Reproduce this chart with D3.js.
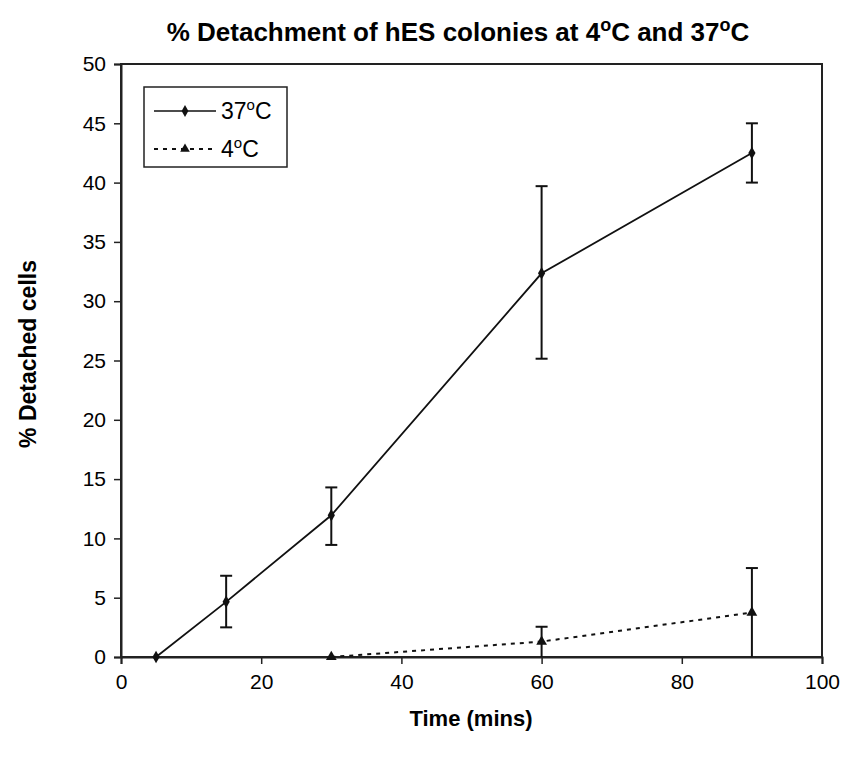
<!DOCTYPE html>
<html><head><meta charset="utf-8">
<script src="https://cdn.jsdelivr.net/npm/d3@7"></script>
<style>body{margin:0;background:#fff;} text{font-family:"Liberation Sans",Arial,sans-serif;fill:#000;}</style>
</head><body>
<svg id="c" width="845" height="758"></svg>
<script>
const times37 = [5, 15, 30, 60, 90];
const values37 = [0, 4.65, 11.95, 32.35, 42.5];
const upper37 = [0, 6.85, 14.3, 39.7, 45.0];
const lower37 = [0, 2.5, 9.45, 25.15, 40.0];
const times4 = [30, 60, 90];
const values4 = [0, 1.3, 3.75];
const upper4 = [0, 2.55, 7.5];
const lower4 = [0, 0, 0];
const xTicks = [0, 20, 40, 60, 80, 100];
const yTicks = [0, 5, 10, 15, 20, 25, 30, 35, 40, 45, 50];

const svg = d3.select("#c");
const L = 121, R = 822, T = 64, B = 657;
const x = d3.scaleLinear().domain([0, 100]).range([L, R]);
const y = d3.scaleLinear().domain([0, 50]).range([B, T]);

svg.append("rect").attr("x", L).attr("y", T).attr("width", R - L).attr("height", B - T)
  .attr("fill", "none").attr("stroke", "#222").attr("stroke-width", 2);

const xa = svg.append("g").attr("transform", `translate(0,${B})`)
  .call(d3.axisBottom(x).tickValues(xTicks).tickSize(7).tickPadding(10).tickFormat(d3.format("d")));
const ya = svg.append("g").attr("transform", `translate(${L},0)`)
  .call(d3.axisLeft(y).tickValues(yTicks).tickSize(7).tickPadding(8).tickFormat(d3.format("d")));
[xa, ya].forEach(a => {
  a.select(".domain").attr("stroke", "#222").attr("stroke-width", 2);
  a.selectAll(".tick line").attr("stroke", "#222").attr("stroke-width", 1.5);
  a.selectAll(".tick text").attr("font-size", 21).attr("font-family", '"Liberation Sans",Arial,sans-serif');
});

function series(ts, vs, up, lo, dashed, marker) {
  const g = svg.append("g");
  const line = d3.line().x((d, i) => x(ts[i])).y(d => y(d));
  g.append("path").datum(vs).attr("d", line).attr("fill", "none").attr("stroke", "#111")
    .attr("stroke-width", dashed ? 2 : 1.8).attr("stroke-dasharray", dashed ? "4,5" : null);
  ts.forEach((t, i) => {
    if (up[i] > lo[i]) {
      g.append("line").attr("x1", x(t)).attr("x2", x(t)).attr("y1", y(up[i])).attr("y2", y(lo[i]))
        .attr("stroke", "#111").attr("stroke-width", 2);
      [up[i], lo[i]].forEach(v => {
        if (v > 0) g.append("line").attr("x1", x(t) - 6).attr("x2", x(t) + 6).attr("y1", y(v)).attr("y2", y(v))
          .attr("stroke", "#111").attr("stroke-width", 2);
      });
    }
  });
  g.selectAll("path.m").data(vs).enter().append("path")
    .attr("transform", (d, i) => `translate(${x(ts[i])},${y(d)})`)
    .attr("d", d3.symbol().type(marker).size(marker === d3.symbolDiamond ? 45 : 50))
    .attr("fill", "#111");
}
series(times37, values37, upper37, lower37, false, d3.symbolDiamond);
series(times4, values4, upper4, lower4, true, d3.symbolTriangle);

// legend
const lg = svg.append("g");
lg.append("rect").attr("x", 144).attr("y", 87).attr("width", 143).attr("height", 80)
  .attr("fill", "#fff").attr("stroke", "#222").attr("stroke-width", 1.5);
const legend = [{label: "37", dashed: false, marker: d3.symbolDiamond, yy: 111},
                {label: "4", dashed: true, marker: d3.symbolTriangle, yy: 149}];
legend.forEach(e => {
  lg.append("line").attr("x1", 154).attr("x2", 216).attr("y1", e.yy).attr("y2", e.yy)
    .attr("stroke", "#111").attr("stroke-width", e.dashed ? 2 : 1.5).attr("stroke-dasharray", e.dashed ? "4,5" : null);
  lg.append("path").attr("transform", `translate(185,${e.yy})`)
    .attr("d", d3.symbol().type(e.marker).size(40)).attr("fill", "#111");
  const t = lg.append("text").attr("x", 221).attr("y", e.yy + 8).attr("font-size", 23);
  t.append("tspan").text(e.label);
  t.append("tspan").attr("font-size", 15).attr("dy", -9).text("o");
  t.append("tspan").attr("dy", 9).text("C");
});

// title
const tt = svg.append("text").attr("x", 458).attr("y", 41).attr("text-anchor", "middle")
  .attr("font-size", 26).attr("font-weight", "bold");
tt.append("tspan").text("% Detachment of hES colonies at 4");
tt.append("tspan").attr("font-size", 18).attr("dy", -10).text("o");
tt.append("tspan").attr("dy", 10).text("C and 37");
tt.append("tspan").attr("font-size", 18).attr("dy", -10).text("o");
tt.append("tspan").attr("dy", 10).text("C");

svg.append("text").attr("x", 471).attr("y", 726).attr("text-anchor", "middle")
  .attr("font-size", 22).attr("font-weight", "bold").text("Time (mins)");
svg.append("text").attr("transform", "translate(36,354) rotate(-90)").attr("text-anchor", "middle")
  .attr("font-size", 23).attr("font-weight", "bold").text("% Detached cells");
</script>
</body></html>
